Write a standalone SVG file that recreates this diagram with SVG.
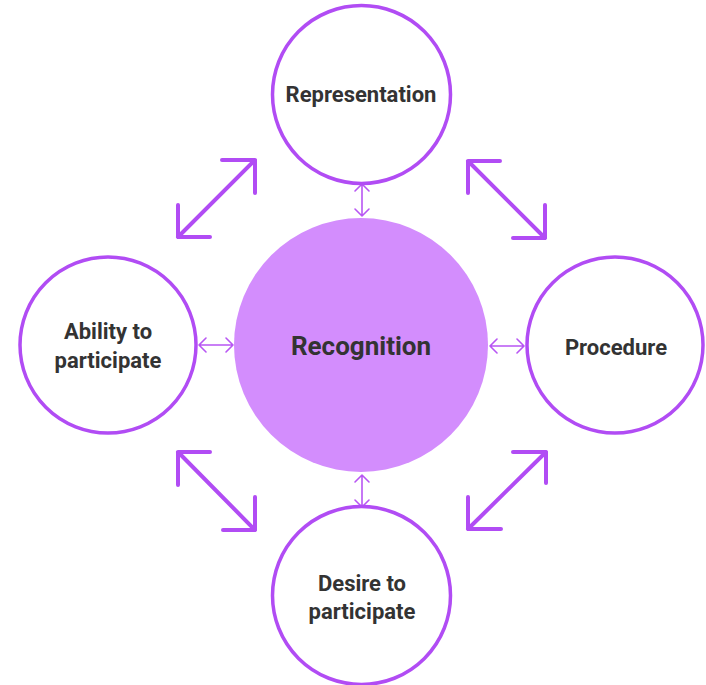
<svg xmlns="http://www.w3.org/2000/svg" width="706" height="685" viewBox="0 0 706 685">
<defs>
<style>
.ring{fill:#ffffff;stroke:#b14cf4;stroke-width:3.5}
.core{fill:#d38dfd}
.lbl{font-family:Roboto,"Liberation Sans",sans-serif;font-weight:bold;fill:#333333;text-anchor:middle;font-size:22px}
.big{font-size:26px}
.thin{fill:none;stroke:#b856f3;stroke-width:1.6;stroke-linecap:round;stroke-linejoin:round}
.thick{fill:none;stroke:#b14cf4;stroke-width:4;stroke-linecap:round;stroke-linejoin:round}
</style>
</defs>
<rect width="706" height="685" fill="#ffffff"/>
<g id="connectors">
<path class="thin" d="M362 184 V216 M355 191 L362 184 L369 191 M355 209 L362 216 L369 209"/>
<path class="thin" d="M199 345 H233 M206 338 L199 345 L206 352 M226 338 L233 345 L226 352"/>
<path class="thin" d="M490 346 H524 M497 339 L490 346 L497 353 M517 339 L524 346 L517 353"/>
<path class="thin" d="M362 475 V507 M355 482 L362 475 L369 482 M355 500 L362 507 L369 500"/>
<path class="thick" d="M178 237 L255 160 M222 160 H255 V193 M178 205 V237 H210"/>
<path class="thick" d="M468 161 L545 238 M500 161 H468 V193 M545 205 V238 H513"/>
<path class="thick" d="M178 452 L255 530 M210 452 H178 V485 M255 497 V530 H223"/>
<path class="thick" d="M546 452 L468 529 M513 452 H546 V483 M468 497 V529 H501"/>
</g>
<g id="recognition">
<circle class="core" cx="361" cy="345" r="127"/>
<text class="lbl big" x="361" y="355">Recognition</text>
</g>
<g id="representation">
<circle class="ring" cx="361.5" cy="94.5" r="89"/>
<text class="lbl" x="361" y="102">Representation</text>
</g>
<g id="ability">
<circle class="ring" cx="108" cy="345" r="88"/>
<text class="lbl" x="108" y="339">Ability to</text>
<text class="lbl" x="108" y="368">participate</text>
</g>
<g id="procedure">
<circle class="ring" cx="615" cy="345" r="88"/>
<text class="lbl" x="616" y="355">Procedure</text>
</g>
<g id="desire">
<circle class="ring" cx="361.5" cy="595.5" r="89"/>
<text class="lbl" x="362" y="591">Desire to</text>
<text class="lbl" x="362" y="619">participate</text>
</g>
</svg>
